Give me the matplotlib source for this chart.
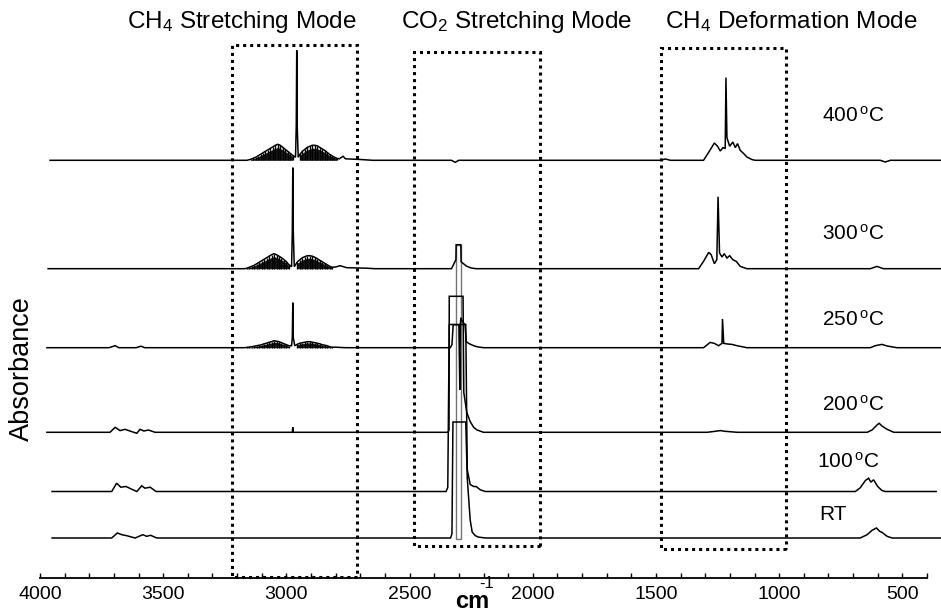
import numpy as np
import matplotlib
matplotlib.use('Agg')
import matplotlib.pyplot as plt
from matplotlib.patches import Rectangle
from matplotlib.ticker import MultipleLocator
from matplotlib import font_manager

_names = {f.name for f in font_manager.fontManager.ttflist}
NARROW = 'Liberation Sans Narrow' in _names
BASEFAM = ['Liberation Sans', 'DejaVu Sans']
NARFAM = (['Liberation Sans Narrow'] if NARROW else []) + BASEFAM

plt.rcParams['font.family'] = BASEFAM
plt.rcParams['mathtext.fontset'] = 'custom'
plt.rcParams['mathtext.rm'] = 'Liberation Sans'
plt.rcParams['mathtext.it'] = 'Liberation Sans:italic'
plt.rcParams['mathtext.bf'] = 'Liberation Sans:bold'

# ---------------- data (wavenumber cm-1, absorbance in arbitrary units) ----------------
temps = ['RT', '100', '200', '250', '300', '400']
offsets = [40, 86.5, 145.7, 230.3, 309.3, 417.7]

wn_rt = [3951, 3709, 3686, 3668, 3648, 3614, 3583, 3567, 3551, 3526, 2334, 2328, 2324,
         2272, 2266, 2254, 2246, 2234, 2222, 2205, 2190, 671, 643, 623, 605, 592, 583, 562, 542, 342]
ab_rt = [0, 0, 5, 3.3, 2.3, 0, 3.3, 1.7, 2.7, 0, 0, 4, 116,
         116, 60, 18, 6, 2.5, 1, 0.4, 0, 0, 3.3, 7.7, 10, 6.7, 5.7, 1.7, 0, 0]

wn_100 = [3951, 3709, 3689, 3672, 3651, 3628, 3607, 3587, 3574, 3553, 3529, 2352, 2345, 2339,
          2272, 2266, 2254, 2240, 2230, 2213, 2193, 691, 671, 650, 637, 628, 617, 600, 583, 569, 363]
ab_100 = [0, 0, 8.3, 4.3, 5, 2.3, 0, 5.7, 3.3, 4.3, 0, 0, 4, 167,
          167, 22, 7, 5, 5, 1.7, 0, 0, 3.7, 11, 13.3, 9.3, 11.7, 5, 1, 0, 0]

wn_200 = [3972, 3716, 3695, 3675, 3655, 3628, 3607, 3594, 3578, 3560, 3533, 2976, 2974, 2972,
          2345, 2340, 2339, 2283, 2280, 2268, 2254, 2240, 2226, 2200, 1292, 1260, 1239, 1220, 1170,
          643, 623, 603, 594, 583, 562, 535, 342]
ab_200 = [0, 0, 5, 1.7, 3, 0.7, -1, 3, 1.3, 2.3, 0, 0, 5, 0,
          0, 2, 136, 136, 40, 20, 10.7, 5, 2.3, 0, 0, 1, 1.7, 1, 0,
          0, 2.3, 7.3, 9, 6.3, 3, 0, 0]

wn_250 = [3972, 3720, 3695, 3680, 3610, 3590, 3575, 3170, 2979, 2976, 2974, 2972, 2966, 2800, 2760,
          2335, 2328, 2323, 2300, 2296, 2294, 2292, 2285, 2275, 2270, 2258, 2245, 2230, 2215, 2200,
          1307, 1280, 1263, 1246, 1232, 1230, 1225, 1209, 1192, 1171, 1131,
          630, 610, 583, 562, 522, 342]
ab_250 = [0, 0, 2, 0, 0, 1.5, 0, 0, 2, 10, 45, 10, 2, 0.5, 0,
          0, 3, 23, 23, -42, 23, 30, 26, 23, 6, 4, 2.5, 1.2, 0.5, 0,
          0, 5.3, 4.3, 2, 4.3, 28.7, 4.3, 3.7, 3.3, 2, 0,
          0, 2, 3.3, 1.7, 0, 0]

wn_300 = [3967, 3170, 2979, 2976, 2974, 2972, 2968, 2800, 2782, 2755, 2673, 2640,
          2330, 2320, 2312, 2311, 2292, 2291, 2270, 2250, 2230,
          1327, 1307, 1286, 1276, 1263, 1253, 1248, 1242, 1232, 1223, 1212, 1201, 1188, 1174, 1158, 1131,
          630, 603, 577, 342]
ab_300 = [0, 0, 2, 37, 101, 37, 2, 1.7, 3, 1, 0.5, 0,
          0, 5, 9, 24, 24, 7, 2.7, 0.7, 0,
          0, 7.3, 16.3, 14, 5, 9, 72, 15.7, 11.7, 15, 10.7, 13, 9, 7.3, 2.3, 0,
          0, 2.3, 0, 0]
# saturated CO2 band of the 300 C spectrum (wn from, wn to, min, max)
sat_300 = (2311, 2292, -270, 24)

wn_400 = [3959, 3160, 2963, 2960, 2958, 2956, 2952, 2785, 2770, 2760, 2700, 2650,
          2330, 2315, 2300, 1482, 1462, 1441,
          1307, 1286, 1263, 1250, 1239, 1228, 1219, 1216, 1212, 1201, 1188, 1178, 1169, 1158, 1144,
          1131, 1110, 1097, 590, 569, 549, 342]
ab_400 = [0, 0, 3, 34, 110, 34, 3, 1.5, 4, 1.5, 0.8, 0,
          0, -2, 0, 0, 1.3, 0,
          0, 8, 17.3, 14, 9.3, 12.7, 11.7, 82.7, 22.7, 14, 18.3, 12.7, 16.7, 10, 6.7,
          3.3, 0.7, 0, 0, -1.7, 0, 0]

# CH4 stretching rotational lines (P and R branches)
p_wn_400 = [3145, 3135, 3125, 3115, 3105, 3095, 3085, 3075, 3065, 3055, 3045, 3035, 3025, 3015, 3005, 2995, 2985, 2975]
p_h_400 = [1, 2, 3, 4.5, 6, 7.5, 9, 10.5, 12, 13.5, 15, 16, 15, 13, 11, 9, 7, 5]
r_wn_400 = [2945, 2935, 2925, 2915, 2905, 2895, 2885, 2875, 2865, 2855, 2845, 2835, 2825, 2815, 2805, 2795]
r_h_400 = [6, 9, 11, 13, 14, 15, 15, 14.5, 13, 11.5, 10, 8, 6, 4.5, 3, 2]

p_wn_300 = [3160, 3150, 3140, 3130, 3120, 3110, 3100, 3090, 3080, 3070, 3060, 3050, 3040, 3030, 3020, 3010, 3000, 2990]
p_h_300 = [0.5, 1.5, 2.5, 3.5, 5, 6.5, 8, 9.5, 11, 12.5, 14, 15, 14, 12.5, 11, 9, 7, 4]
r_wn_300 = [2955, 2945, 2935, 2925, 2915, 2905, 2895, 2885, 2875, 2865, 2855, 2845, 2835, 2825, 2815]
r_h_300 = [7, 9, 11, 12, 13, 13, 12.5, 11.5, 10, 8.5, 7, 5.5, 4, 2.5, 1.5]
p_h_250 = [0.3, 0.7, 1, 1.5, 2, 2.5, 3, 4, 4.5, 5.5, 6, 7, 6.5, 6, 5, 4, 3, 2]
r_h_250 = [3.5, 4.5, 5, 5.5, 6, 6, 5.5, 5, 4.5, 4, 3, 2.5, 2, 1, 0.5]

traces = {
    'RT': (wn_rt, ab_rt, None),
    '100': (wn_100, ab_100, None),
    '200': (wn_200, ab_200, None),
    '250': (wn_250, ab_250, [(p_wn_300, p_h_250), (r_wn_300, r_h_250)]),
    '300': (wn_300, ab_300, [(p_wn_300, p_h_300), (r_wn_300, r_h_300)]),
    '400': (wn_400, ab_400, [(p_wn_400, p_h_400), (r_wn_400, r_h_400)]),
}

# ---------------- figure ----------------
W, H = 941, 611
fig = plt.figure(figsize=(W / 100, H / 100), dpi=100)
ax = fig.add_axes([40 / W, 33 / H, 887 / W, 578 / H])
ax.set_xlim(4000, 400)
ax.set_ylim(0, 578)

for t, off in zip(temps, offsets):
    wn, ab, combs = traces[t]
    wn = list(wn)
    ab = list(ab)
    if combs:
        for cw, ch in combs:
            wn += list(cw)
            ab += list(ch)
            cw_a = np.array(cw, float)
            ch_a = np.array(ch, float)
            ax.fill_between(cw_a, off, off + 0.8 * ch_a, color='0.1', lw=0, clip_on=False)
            ax.vlines(cw_a, off, off + ch_a, color='black', lw=1.0, clip_on=False)
    wn = np.array(wn, dtype=float)
    ab = np.array(ab, dtype=float)
    order = np.argsort(-wn)
    ax.plot(wn[order], ab[order] + off, color='black', lw=1.1, clip_on=False,
            solid_joinstyle='miter')

# saturated band outline of the 300 C spectrum
x0, x1, lo, hi = sat_300
off300 = offsets[temps.index('300')]
ax.add_patch(Rectangle((x1, off300 + lo), x0 - x1, hi - lo, fill=False, ec='0.45',
                       lw=1.0, clip_on=False))

# dotted region boxes
regions = [(3220, 2713, 1, 533), (2481, 1970, 32, 526), (1479, 971, 29, 530)]
for a0, a1, b0, b1 in regions:
    ax.add_patch(Rectangle((a1, b0), a0 - a1, b1 - b0, fill=False, ec='black',
                           lw=2.2, ls=(0, (1, 1.3)), clip_on=False))

# axes styling
for s in ['left', 'right', 'top']:
    ax.spines[s].set_visible(False)
ax.spines['bottom'].set_linewidth(1.3)
ax.set_yticks([])
ax.xaxis.set_major_locator(MultipleLocator(500))
ax.xaxis.set_minor_locator(MultipleLocator(100))
ax.tick_params(axis='x', which='both', direction='in', length=3.5, width=1.0, pad=6)
for lab in ax.get_xticklabels():
    lab.set_family(NARFAM)
    lab.set_fontsize(16 if NARROW else 14)

def ftext(x, y, s, **kw):
    fig.text(x / W, 1 - y / H, s, **kw)

hsize = 19 if NARROW else 17.5
ftext(242, 22, r'CH$_4$ Stretching Mode', ha='center', va='center', fontsize=hsize, family=NARFAM)
ftext(516, 22, r'CO$_2$ Stretching Mode', ha='center', va='center', fontsize=hsize, family=NARFAM)
ftext(791, 22, r'CH$_4$ Deformation Mode', ha='center', va='center', fontsize=hsize, family=NARFAM)

lab_pos = {'400': (853, 116), '300': (853, 234), '250': (853, 320), '200': (853, 405),
           '100': (848, 462), 'RT': (833, 515)}
for t in temps:
    x, y = lab_pos[t]
    s = 'RT' if t == 'RT' else t + r'$\,^{\rm o}$C'
    ftext(x, y, s, ha='center', va='center', fontsize=15)

ftext(22, 369, 'Absorbance', ha='center', va='center', rotation=90, fontsize=19.5)
ftext(472, 601, 'cm', ha='center', va='center', fontsize=17, weight='bold')
ftext(487, 584, '-1', ha='center', va='center', fontsize=12)

fig.savefig('out.png', dpi=100)
